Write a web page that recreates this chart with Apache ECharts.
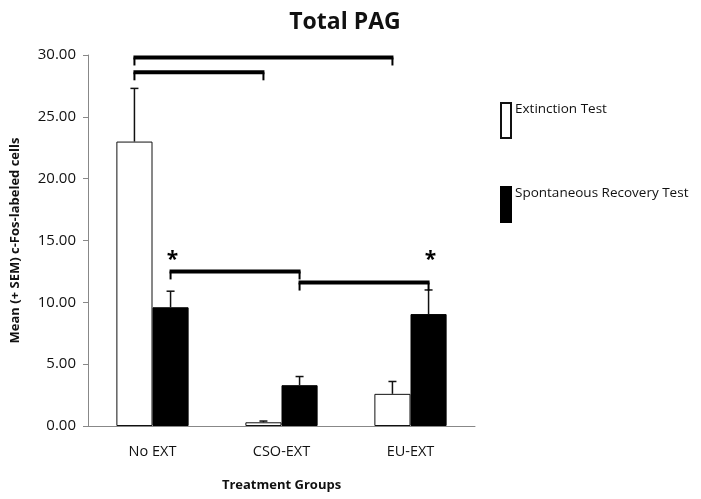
<!DOCTYPE html>
<html>
<head>
<meta charset="utf-8">
<script src="https://cdn.jsdelivr.net/npm/echarts@6/dist/echarts.min.js"></script>
<style>
  html, body { margin: 0; padding: 0; background: #fff; }
  #chart { width: 701px; height: 499px; }
</style>
</head>
<body>
<div id="chart"></div>
<script>
// data
const categories = ['No EXT', 'CSO-EXT', 'EU-EXT']
const extinction = [23.0, 0.3, 2.6]
const extinctionSem = [4.3, 0.1, 1.0]
const recovery = [9.6, 3.3, 9.05]
const recoverySem = [1.3, 0.7, 1.95]
const yTicks = [0, 5, 10, 15, 20, 25, 30]
// significance brackets: [fromCategory, fromSeries, toCategory, toSeries, height]
const brackets = [
  [0, 0, 2, 0, 29.8],
  [0, 0, 1, 0, 28.6],
  [0, 1, 1, 1, 12.5],
  [1, 1, 2, 1, 11.6]
]
// asterisks: [category, series, height]
const stars = [
  [0, 1, 13.4],
  [2, 1, 13.4]
]

const GAP = 0.44
const FONT = '"Open Sans", "Noto Sans", sans-serif'

// horizontal offset of a bar's centre from its category centre
function barOffset(api, s) {
  const band = api.size([1, 0])[0]
  const w = band * (1 - GAP) / 2
  return s === 0 ? -w / 2 : w / 2
}

const errData = []
extinction.forEach((v, i) => errData.push([i, v, extinctionSem[i], 0]))
recovery.forEach((v, i) => errData.push([i, v, recoverySem[i], 1]))

const chart = echarts.init(document.getElementById('chart'))
const option = {
  animation: false,
  title: {
    text: 'Total PAG',
    left: 340,
    textAlign: 'center',
    top: 6,
    textStyle: { fontFamily: FONT, fontSize: 23, fontWeight: 'bold', color: '#111' }
  },
  legend: {
    orient: 'vertical',
    left: 500,
    top: 102,
    padding: 0,
    icon: 'rect',
    itemWidth: 10,
    itemHeight: 35,
    itemGap: 47,
    data: ['Extinction Test', 'Spontaneous Recovery Test'],
    formatter: '{t|{name}}',
    textStyle: {
      rich: {
        t: { fontFamily: FONT, fontSize: 13.5, color: '#111', padding: [0, 0, 22, -1] }
      }
    }
  },
  grid: { left: 88, right: 226, top: 55, bottom: 73 },
  xAxis: {
    type: 'category',
    data: categories,
    name: 'Treatment Groups',
    nameLocation: 'middle',
    nameGap: 53,
    nameTextStyle: { fontFamily: FONT, fontSize: 13, fontWeight: 'bold', color: '#111' },
    axisLine: { lineStyle: { color: '#888', width: 1 } },
    axisTick: { length: 5, lineStyle: { color: '#888' } },
    axisLabel: { fontFamily: FONT, fontSize: 14.5, color: '#111', margin: 18 }
  },
  yAxis: {
    type: 'value',
    min: yTicks[0],
    max: yTicks[yTicks.length - 1],
    interval: 5,
    name: 'Mean (+ SEM) c-Fos-labeled cells',
    nameLocation: 'middle',
    nameGap: 66,
    nameTextStyle: { fontFamily: FONT, fontSize: 13, fontWeight: 'bold', color: '#111' },
    splitLine: { show: false },
    axisLine: { show: true, lineStyle: { color: '#888', width: 1 } },
    axisTick: { show: true, length: 5, lineStyle: { color: '#888' } },
    axisLabel: { fontFamily: FONT, fontSize: 15, color: '#111', margin: 12, formatter: v => v.toFixed(2) }
  },
  series: [
    {
      name: 'Extinction Test',
      type: 'bar',
      data: extinction,
      barGap: '0%',
      barCategoryGap: (GAP * 100) + '%',
      itemStyle: { color: '#fff', borderColor: '#111', borderWidth: 1 }
    },
    {
      name: 'Spontaneous Recovery Test',
      type: 'bar',
      data: recovery,
      itemStyle: { color: '#000', borderColor: '#000', borderWidth: 1 }
    },
    {
      // error bars (upper only)
      type: 'custom',
      data: errData,
      encode: { x: 0, y: 1 },
      z: 3,
      renderItem: function (params, api) {
        const s = api.value(3)
        const dx = barOffset(api, s)
        const lo = api.coord([api.value(0), api.value(1)])
        const hi = api.coord([api.value(0), api.value(1) + api.value(2)])
        const x = lo[0] + dx
        const style = { stroke: '#111', lineWidth: 1.5 }
        return {
          type: 'group',
          children: [
            { type: 'line', shape: { x1: x, y1: lo[1], x2: x, y2: hi[1] }, style },
            { type: 'line', shape: { x1: x - 4, y1: hi[1], x2: x + 4, y2: hi[1] }, style }
          ]
        }
      }
    },
    {
      // significance brackets
      type: 'custom',
      data: brackets,
      encode: { x: [0, 2], y: 4 },
      clip: false,
      z: 4,
      renderItem: function (params, api) {
        const a = api.coord([api.value(0), api.value(4)])
        const b = api.coord([api.value(2), api.value(4)])
        const x1 = a[0] + barOffset(api, api.value(1))
        const x2 = b[0] + barOffset(api, api.value(3))
        const y = a[1]
        const style = { stroke: '#000', lineWidth: 4, lineCap: 'butt' }
        const tick = { stroke: '#000', lineWidth: 2 }
        return {
          type: 'group',
          children: [
            { type: 'line', shape: { x1: x1 - 1, y1: y, x2: x2 + 1, y2: y }, style },
            { type: 'line', shape: { x1: x1, y1: y, x2: x1, y2: y + 8 }, style: tick },
            { type: 'line', shape: { x1: x2, y1: y, x2: x2, y2: y + 8 }, style: tick }
          ]
        }
      }
    },
    {
      // asterisks
      type: 'custom',
      data: stars,
      encode: { x: 0, y: 2 },
      clip: false,
      z: 4,
      renderItem: function (params, api) {
        const p = api.coord([api.value(0), api.value(2)])
        return {
          type: 'text',
          x: p[0] + barOffset(api, api.value(1)) + 2,
          y: p[1],
          style: {
            text: '*',
            fill: '#000',
            font: 'bold 21px ' + FONT,
            align: 'center',
            verticalAlign: 'middle'
          }
        }
      }
    }
  ]
}
chart.setOption(option)
</script>
</body>
</html>
